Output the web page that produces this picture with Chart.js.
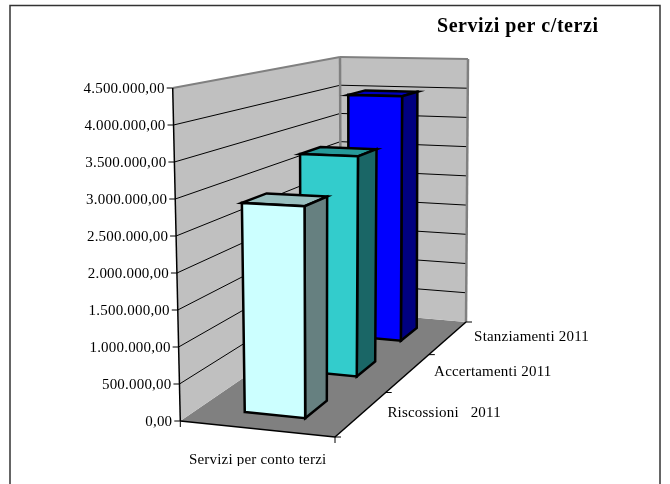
<!DOCTYPE html>
<html>
<head>
<meta charset="utf-8">
<style>
    html, body { margin: 0; padding: 0; background: #fff; overflow: hidden; }
    canvas { display: block; }
</style>
<script src="https://cdn.jsdelivr.net/npm/chart.js@4"></script>
</head>
<body>
<canvas id="chart" width="670" height="484"></canvas>
<script>
// Dati
const categories = ['Servizi per conto terzi'];
const seriesNames = ['Riscossioni   2011', 'Accertamenti 2011', 'Stanziamenti 2011'];
const riscossioni = [2880000];
const accertamenti = [3280000];
const stanziamenti = [3980000];
const tickLabels = ['0,00', '500.000,00', '1.000.000,00', '1.500.000,00', '2.000.000,00',
    '2.500.000,00', '3.000.000,00', '3.500.000,00', '4.000.000,00', '4.500.000,00'];
const chartTitle = 'Servizi per c/terzi';

// Colori: frontale, lato, sopra
const palette = [
    ['#CCFFFF', '#668080', '#99BFBF'],
    ['#33CCCC', '#1A6666', '#269999'],
    ['#0000FF', '#000080', '#0000BF']
];

const serif = '"Liberation Serif", serif';

// Angoli della scatola 3D: fronte-sx, fronte-dx, retro-dx, retro-sx
const floorQuad = [[180.3, 421], [335, 437], [466, 322], [341, 311]];
const topQuad = [[172.7, 88], [337, 93], [468, 59], [340, 57]];

function homography(q) {
    const [x0, y0] = q[0], [x1, y1] = q[1], [x2, y2] = q[2], [x3, y3] = q[3];
    const dx1 = x1 - x2, dx2 = x3 - x2, sx = x0 - x1 + x2 - x3;
    const dy1 = y1 - y2, dy2 = y3 - y2, sy = y0 - y1 + y2 - y3;
    const den = dx1 * dy2 - dx2 * dy1;
    const g = (sx * dy2 - dx2 * sy) / den;
    const h = (dx1 * sy - sx * dy1) / den;
    const a = x1 - x0 + g * x1, b = x3 - x0 + h * x3;
    const d = y1 - y0 + g * y1, e = y3 - y0 + h * y3;
    return (u, w) => {
        const k = g * u + h * w + 1;
        return [(a * u + b * w + x0) / k, (d * u + e * w + y0) / k];
    };
}

const floorAt = homography(floorQuad);
const topAt = homography(topQuad);

// u = larghezza, w = profondita, value passa dalla scala y
function project(chart, u, w, value) {
    const y = chart.scales.y;
    const t = (y.bottom - y.getPixelForValue(value)) / (y.bottom - y.top);
    const a = floorAt(u, w), b = topAt(u, w);
    return [a[0] + (b[0] - a[0]) * t, a[1] + (b[1] - a[1]) * t];
}

function poly(ctx, pts, fill, stroke, lw) {
    ctx.beginPath();
    pts.forEach((p, i) => i ? ctx.lineTo(p[0], p[1]) : ctx.moveTo(p[0], p[1]));
    ctx.closePath();
    if (fill) { ctx.fillStyle = fill; ctx.fill(); }
    if (stroke) { ctx.strokeStyle = stroke; ctx.lineWidth = lw; ctx.stroke(); }
}

function segment(ctx, a, b, color, lw) {
    ctx.beginPath();
    ctx.moveTo(a[0], a[1]);
    ctx.lineTo(b[0], b[1]);
    ctx.strokeStyle = color;
    ctx.lineWidth = lw;
    ctx.stroke();
}

const box3d = {
    id: 'box3d',
    beforeDraw(chart) {
        const ctx = chart.ctx;
        ctx.save();
        ctx.fillStyle = '#fff';
        ctx.fillRect(0, 0, chart.width, chart.height);
        ctx.strokeStyle = '#333';
        ctx.lineWidth = 1.5;
        ctx.strokeRect(10, 5.5, 650, 490);
        ctx.restore();
        // spaziatura larga del testo originale, vale anche per l'asse x
        ctx.letterSpacing = '0.2px';
    },
    beforeDatasetsDraw(chart) {
        const ctx = chart.ctx;
        const yScale = chart.scales.y;
        const max = yScale.max;
        ctx.save();

        // pavimento e pareti
        poly(ctx, [floorAt(0, 0), floorAt(1, 0), floorAt(1, 1), floorAt(0, 1)], '#808080');
        const leftWall = [floorAt(0, 0), floorAt(0, 1), topAt(0, 1), topAt(0, 0)];
        const backWall = [floorAt(0, 1), floorAt(1, 1), topAt(1, 1), topAt(0, 1)];
        poly(ctx, leftWall, '#C0C0C0');
        poly(ctx, backWall, '#C0C0C0');

        // griglia
        yScale.ticks.forEach(t => {
            if (t.value === 0 || t.value === max) return;
            const a = project(chart, 0, 0, t.value);
            const b = project(chart, 0, 1, t.value);
            const c = project(chart, 1, 1, t.value);
            segment(ctx, a, b, '#000', 1);
            segment(ctx, b, c, '#000', 1);
        });

        // bordi grigi delle pareti
        segment(ctx, topAt(0, 0), topAt(0, 1), '#808080', 2);
        segment(ctx, topAt(0, 1), topAt(1, 1), '#808080', 2);
        segment(ctx, topAt(1, 1), floorAt(1, 1), '#808080', 2.5);
        segment(ctx, topAt(0, 1), floorAt(0, 1), '#808080', 2.5);

        // assi
        segment(ctx, topAt(0, 0), floorAt(0, 0), '#000', 1.5);
        segment(ctx, floorAt(0, 0), floorAt(1, 0), '#000', 1.5);
        segment(ctx, floorAt(1, 0), floorAt(1, 1), '#000', 1.5);

        // tacche ed etichette asse y
        ctx.font = '15px ' + serif;
        ctx.textAlign = 'right';
        ctx.textBaseline = 'middle';
        yScale.ticks.forEach((t, i) => {
            const p = project(chart, 0, 0, t.value);
            segment(ctx, [p[0] - 6, p[1]], p, '#000', 1);
            ctx.fillStyle = '#000';
            ctx.fillText(tickLabels[i], p[0] - 8, p[1] + 1);
        });

        // tacche asse x
        [0, 1].forEach(u => {
            const p = floorAt(u, 0);
            segment(ctx, p, [p[0], p[1] + 6], '#000', 1);
        });

        // tacche ed etichette di profondita
        ctx.textAlign = 'left';
        for (let i = 0; i <= seriesNames.length; i++) {
            const p = floorAt(1, i / seriesNames.length);
            segment(ctx, p, [p[0] + 6, p[1]], '#000', 1);
        }
        seriesNames.forEach((name, i) => {
            const p = floorAt(1, (i + 0.5) / seriesNames.length);
            ctx.fillStyle = '#000';
            ctx.fillText(name, p[0] + 26, p[1] - 1);
        });

        // titolo
        ctx.font = 'bold 20px ' + serif;
        ctx.letterSpacing = '0.55px';
        ctx.textAlign = 'right';
        ctx.fillText(chartTitle, 598.5, 27);
        ctx.restore();
    },
    // ogni barra viene disegnata come parallelepipedo, dal retro al fronte
    beforeDatasetDraw(chart, args) {
        const ctx = chart.ctx;
        const meta = chart.getDatasetMeta(args.index);
        const bar = meta.data[0];
        const area = chart.chartArea;
        const u0 = (bar.x - bar.width / 2 - area.left) / area.width;
        const u1 = (bar.x + bar.width / 2 - area.left) / area.width;
        const n = chart.data.datasets.length;
        const w0 = (args.index + 0.3) / n;
        const w1 = (args.index + 0.7) / n;
        const v = meta.controller.getParsed(0).y;
        const colors = palette[args.index];
        const P = (u, w, val) => project(chart, u, w, val);

        ctx.save();
        ctx.lineJoin = 'miter';
        poly(ctx, [P(u0, w0, v), P(u1, w0, v), P(u1, w1, v), P(u0, w1, v)], colors[2], '#000', 2.5);
        poly(ctx, [P(u1, w0, 0), P(u1, w1, 0), P(u1, w1, v), P(u1, w0, v)], colors[1], '#000', 2.5);
        poly(ctx, [P(u0, w0, 0), P(u1, w0, 0), P(u1, w0, v), P(u0, w0, v)], colors[0], '#000', 2.5);
        ctx.restore();
        return false;
    }
};

new Chart(document.getElementById('chart'), {
    type: 'bar',
    data: {
        labels: categories,
        datasets: [
            { label: seriesNames[0], data: riscossioni },
            { label: seriesNames[1], data: accertamenti },
            { label: seriesNames[2], data: stanziamenti }
        ]
    },
    options: {
        responsive: false,
        animation: false,
        layout: { padding: { left: 180.3, right: 335, top: 88, bottom: 18 } },
        plugins: { legend: { display: false }, tooltip: { enabled: false } },
        scales: {
            x: {
                stacked: false,
                grid: { display: false },
                border: { display: false },
                afterFit: scale => { scale.height = 45; },
                ticks: {
                    color: '#000',
                    padding: 22,
                    maxRotation: 0,
                    font: { family: serif, size: 15 }
                }
            },
            y: {
                display: false,
                min: 0,
                max: 4500000,
                ticks: { stepSize: 500000 }
            }
        },
        datasets: { bar: { grouped: false, barPercentage: 0.4, categoryPercentage: 1 } }
    },
    plugins: [box3d]
});
</script>
</body>
</html>
